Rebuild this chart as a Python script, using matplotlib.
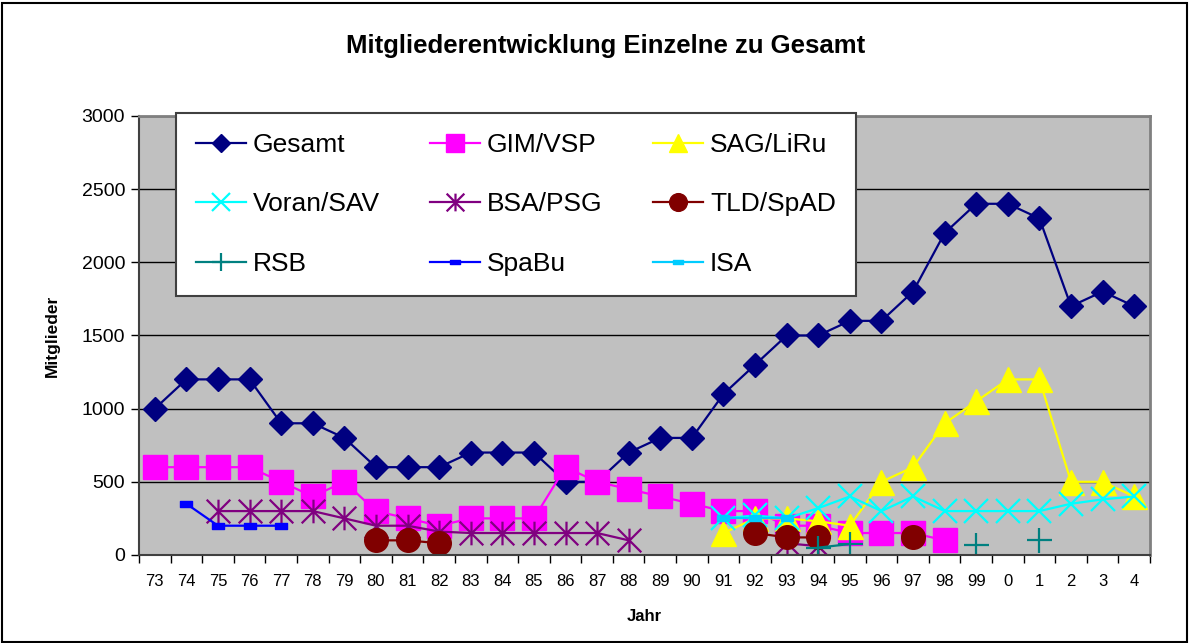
import matplotlib
matplotlib.use('Agg')
import matplotlib.pyplot as plt
import numpy as np
from matplotlib.path import Path
from matplotlib.patches import Rectangle

plt.rcParams['font.family'] = ['Liberation Sans', 'DejaVu Sans']

nan = np.nan
jahre = ['73', '74', '75', '76', '77', '78', '79', '80', '81', '82', '83', '84',
         '85', '86', '87', '88', '89', '90', '91', '92', '93', '94', '95', '96',
         '97', '98', '99', '0', '1', '2', '3', '4']

gesamt = [1000, 1200, 1200, 1200, 900, 900, 800, 600, 600, 600, 700, 700,
          700, 500, 500, 700, 800, 800, 1100, 1300, 1500, 1500, 1600, 1600,
          1800, 2200, 2400, 2400, 2300, 1700, 1800, 1700]
gim_vsp = [600, 600, 600, 600, 500, 400, 500, 300, 250, 200, 250, 250,
           250, 600, 500, 450, 400, 350, 300, 300, 200, 200, 150, 150,
           150, 100, nan, nan, nan, nan, nan, nan]
sag_liru = [nan] * 18 + [150, 250, 250, 230, 200, 500,
                         600, 900, 1050, 1200, 1200, 500, 500, 400]
voran_sav = [nan] * 18 + [250, 270, 250, 320, 400, 300,
                          400, 300, 300, 300, 300, 350, 380, 400]
bsa_psg = [nan, nan, 300, 300, 300, 300, 250, 200, 200, 160, 150, 150,
           150, 150, 150, 100, nan, nan, nan, nan, 80, 60, nan, nan,
           nan, nan, nan, nan, nan, nan, nan, nan]
tld_spad = [nan] * 7 + [100, 100, 80] + [nan] * 9 + [150, 120, 120, nan, nan,
                                                      120] + [nan] * 7
rsb = [nan] * 21 + [50, 75, nan, nan, nan, 70, nan, 100, nan, nan, nan]
spabu = [nan, 350, 200, 200, 200] + [nan] * 27
isa = [nan] * 18 + [250, 250, 250] + [nan] * 11

# marker shapes like in excel
stern = Path([(0, -1), (0, 1), (-1, -1), (1, 1), (-1, 1), (1, -1)],
             [Path.MOVETO, Path.LINETO, Path.MOVETO, Path.LINETO, Path.MOVETO, Path.LINETO])
balken = Path([(-1, -0.45), (1, -0.45), (1, 0.45), (-1, 0.45), (-1, -0.45)],
              [Path.MOVETO, Path.LINETO, Path.LINETO, Path.LINETO, Path.CLOSEPOLY])

fig = plt.figure(figsize=(11.89, 6.43), dpi=100)
ax = fig.add_axes([0.1169, 0.1369, 0.8503, 0.6827])
ax.set_facecolor('#C0C0C0')
x = np.arange(len(jahre))

lw = 1.6
h = {}
h['Gesamt'], = ax.plot(x, gesamt, color='#000080', lw=lw, marker='D', ms=12, mec='#000080')
h['GIM/VSP'], = ax.plot(x, gim_vsp, color='#FF00FF', lw=lw, marker='s', ms=17, mec='#FF00FF')
h['SAG/LiRu'], = ax.plot(x, sag_liru, color='#FFFF00', lw=lw, marker='^', ms=18, mec='#FFFF00')
h['Voran/SAV'], = ax.plot(x, voran_sav, color='#00FFFF', lw=lw, marker='x', ms=17, mew=1.6)
h['BSA/PSG'], = ax.plot(x, bsa_psg, color='#800080', lw=lw, marker=stern, ms=17, mew=1.6)
h['TLD/SpAD'], = ax.plot(x, tld_spad, color='#800000', lw=lw, marker='o', ms=17, mec='#800000')
h['RSB'], = ax.plot(x, rsb, color='#008080', lw=lw, marker='+', ms=18, mew=1.6)
h['SpaBu'], = ax.plot(x, spabu, color='#0000FF', lw=lw, marker=balken, ms=9, mec='#0000FF')
h['ISA'], = ax.plot(x, isa, color='#00CCFF', lw=lw, marker=balken, ms=9, mec='#00CCFF')

ax.set_xlim(-0.5, len(jahre) - 0.5)
ax.set_ylim(0, 3000)
ax.set_yticks(np.arange(0, 3001, 500))
ax.set_xticks(x)
ax.set_xticklabels(jahre, fontsize=12)
ax.set_xticks(np.arange(-0.5, len(jahre)), minor=True)
ax.tick_params(axis='x', which='major', length=0, pad=14)
ax.tick_params(axis='x', which='minor', length=6, width=1, color='black')
ax.tick_params(axis='y', length=6, width=1, labelsize=14, pad=4)
ax.yaxis.grid(True, color='black', lw=1)
ax.set_axisbelow(True)
for s in ['top', 'right']:
    ax.spines[s].set_color('#808080')
    ax.spines[s].set_linewidth(2)
for s in ['left', 'bottom']:
    ax.spines[s].set_color('#404040')
    ax.spines[s].set_linewidth(1.5)

ax.set_xlabel('Jahr', fontsize=12, fontweight='bold', labelpad=14)
ax.set_ylabel('Mitglieder', fontsize=12.5, fontweight='bold', labelpad=16)
fig.text(0.509, 0.929, 'Mitgliederentwicklung Einzelne zu Gesamt', fontsize=18.5,
         fontweight='bold', ha='center', va='center')

# legend: excel fills rows, matplotlib fills columns
order = ['Gesamt', 'Voran/SAV', 'RSB', 'GIM/VSP', 'BSA/PSG', 'SpaBu',
         'SAG/LiRu', 'TLD/SpAD', 'ISA']
leg = fig.legend([h[k] for k in order], order, loc='upper left',
                 bbox_to_anchor=(176 / 1189, 1 - 113 / 643), ncol=3,
                 borderaxespad=0, fontsize=19, frameon=True, fancybox=False,
                 framealpha=1, edgecolor='#404040', handlelength=1.9,
                 handletextpad=0.25, columnspacing=1.92, labelspacing=1.35,
                 borderpad=0.75, markerscale=0.75)
leg.get_frame().set_linewidth(1.5)

fig.patches.append(Rectangle((0.002, 0.002), 0.996, 0.994, transform=fig.transFigure,
                             fill=False, edgecolor='black', lw=1.5))

fig.savefig('out.png', dpi=100)
